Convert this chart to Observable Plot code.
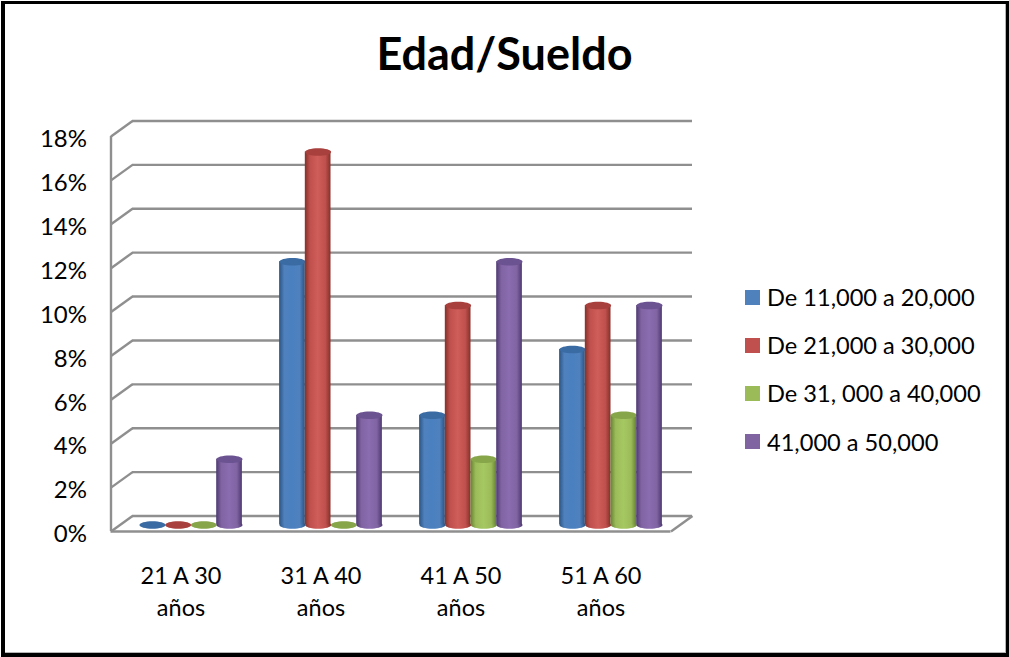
<!DOCTYPE html>
<html lang="es">
<head>
<meta charset="utf-8">
<script src="https://cdn.jsdelivr.net/npm/d3@7"></script>
<script src="https://cdn.jsdelivr.net/npm/@observablehq/plot@0.6"></script>
<style>
html,body{margin:0;padding:0;background:#fff}
#chart{position:relative;width:1009px;height:657px;overflow:hidden;font-family:Lato,sans-serif;color:#000}
#chart svg{position:absolute;left:0;top:0;background:transparent}
#frame{position:absolute;left:1px;top:1px;width:1001px;height:649px;border-style:solid;border-color:#000;border-width:3px 3px 4px 4px;box-shadow:inset -1px -1px 0 #b5b5b5}
#title{position:absolute;left:0;top:23px;width:1009px;text-align:center;font-size:45px;line-height:60px;font-weight:700;margin:0}
#legend{position:absolute;left:745px;top:273px}
.item{display:flex;align-items:center;height:48.2px;font-size:23.6px;white-space:nowrap}
.sw{width:15px;height:15px;margin-right:7px;flex:none}
</style>
</head>
<body>
<div id="chart">
  <div id="frame"></div>
  <h1 id="title">Edad/Sueldo</h1>
  <div id="legend"></div>
</div>
<script>
const categories = ["21 A 30\naños", "31 A 40\naños", "41 A 50\naños", "51 A 60\naños"];
const seriesNames = ["De 11,000 a 20,000", "De 21,000 a 30,000", "De 31, 000 a 40,000", "41,000 a 50,000"];
const seriesA = [0, 12, 5, 8];
const seriesB = [0, 17, 10, 10];
const seriesC = [0, 0, 3, 5];
const seriesD = [3, 5, 12, 10];
const yTicks = [0, 2, 4, 6, 8, 10, 12, 14, 16, 18];
const baseColors = ["#4f81bd", "#c0504d", "#9bbb59", "#8064a2"];
const edgeColors = ["#2a5484", "#853029", "#668232", "#4e3a72"];
const midColors  = ["#4a80c0", "#cf5d5a", "#a6c862", "#8a6cb0"];
const capColors  = ["#3a6ba3", "#a8403d", "#87a64a", "#6b5290"];

const allValues = [seriesA, seriesB, seriesC, seriesD];

// wall depth expressed in scale units
const depthX = 0.1536, depthY = 0.7065;
const barW = 0.1835, groupOffset = 0.5 - 2 * barW;
const barDx = 10, barDy = -6.5;

const ellipse = {
  draw(ctx, size) {
    const rx = Math.sqrt(size / Math.PI), ry = rx * 0.29, k = 0.5523;
    ctx.moveTo(-rx, 0);
    ctx.bezierCurveTo(-rx, -k * ry, -k * rx, -ry, 0, -ry);
    ctx.bezierCurveTo(k * rx, -ry, rx, -k * ry, rx, 0);
    ctx.bezierCurveTo(rx, k * ry, k * rx, ry, 0, ry);
    ctx.bezierCurveTo(-k * rx, ry, -rx, k * ry, -rx, 0);
    ctx.closePath();
  }
};

const gridColor = "#8f8f8f";
const gridWidth = 2.4;
const marks = [
  // back wall lines
  Plot.ruleY(yTicks, {x1: 0, x2: 4, dx: 21.5, dy: -15.5, stroke: gridColor, strokeWidth: gridWidth}),
  // side wall diagonals
  Plot.link(yTicks, {x1: () => 0, x2: () => depthX, y1: d => d, y2: d => d + depthY, stroke: gridColor, strokeWidth: gridWidth}),
  // front axis lines
  Plot.ruleX([0], {y1: 0, y2: 18, stroke: gridColor, strokeWidth: gridWidth}),
  Plot.ruleY([0], {x1: 0, x2: 4, stroke: gridColor, strokeWidth: gridWidth}),
  Plot.link([0], {x1: () => 4, x2: () => 4 + depthX, y1: d => d, y2: d => d + depthY, stroke: gridColor, strokeWidth: gridWidth})
];

allValues.forEach((vals, s) => {
  const rows = vals.map((v, i) => ({i, v}));
  const cx = d => d.i + groupOffset + (s + 0.5) * barW;
  marks.push(
    Plot.dot(rows.filter(d => d.v > 0), {x: cx, y: () => 0, r: 13, symbol: ellipse, dx: barDx, dy: barDy, fill: `url(#cyl${s})`, stroke: "none"}),
    Plot.rect(rows.filter(d => d.v > 0), {
      x1: d => d.i + groupOffset + s * barW,
      x2: d => d.i + groupOffset + (s + 1) * barW,
      y1: () => 0, y2: d => d.v,
      dx: barDx, dy: barDy, fill: `url(#cyl${s})`
    }),
    Plot.dot(rows, {x: cx, y: d => d.v, r: 13, symbol: ellipse, dx: barDx, dy: barDy, fill: capColors[s], stroke: "none"})
  );
});

marks.push(
  Plot.text(yTicks, {x: () => 0, y: d => d, text: d => d + "%", textAnchor: "end", dx: -24, dy: 3, fontSize: 24, fill: "#000", fontFamily: "Lato, sans-serif"}),
  Plot.text(categories, {x: (d, i) => i + 0.5, y: () => 0, text: d => d, dy: 58, lineHeight: 1.35, fontSize: 23.5, fill: "#000", fontFamily: "Lato, sans-serif", textAnchor: "middle"})
);

const svg = Plot.plot({
  width: 1009, height: 657,
  marginTop: 0, marginRight: 0, marginBottom: 0, marginLeft: 0,
  x: {domain: [0, 4], range: [110.5, 670.5], axis: null},
  y: {domain: [0, 18], range: [531, 136], axis: null},
  style: {background: "transparent"},
  marks
});

const defs = baseColors.map((b, s) =>
  `<linearGradient id="cyl${s}" x1="0" x2="1" y1="0" y2="0">
     <stop offset="0" stop-color="${edgeColors[s]}"/>
     <stop offset="0.2" stop-color="${b}"/>
     <stop offset="0.5" stop-color="${midColors[s]}"/>
     <stop offset="0.8" stop-color="${b}"/>
     <stop offset="1" stop-color="${edgeColors[s]}"/>
   </linearGradient>`).join("");
svg.insertAdjacentHTML("afterbegin", `<defs>${defs}</defs>`);

const chart = document.getElementById("chart");
chart.insertBefore(svg, document.getElementById("frame"));

const legend = document.getElementById("legend");
seriesNames.forEach((name, s) => {
  const it = document.createElement("div");
  it.className = "item";
  it.innerHTML = `<span class="sw" style="background:${baseColors[s]}"></span><span>${name}</span>`;
  legend.appendChild(it);
});
</script>
</body>
</html>
